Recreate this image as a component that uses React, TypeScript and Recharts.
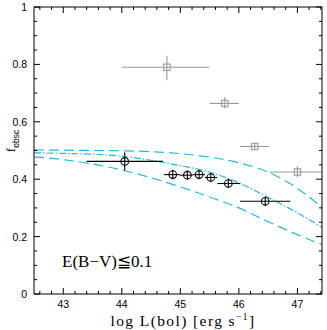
import React from 'react';
import { ComposedChart, Line, Scatter, XAxis, YAxis, ErrorBar } from 'recharts';

// model curves, sampled along log L(bol)
const curveLum = [42.5, 43.0, 43.5, 44.0, 44.5, 45.0, 45.5, 46.0, 46.5, 47.0, 47.42];
const upperDashed = [0.502, 0.501, 0.5, 0.499, 0.496, 0.489, 0.477, 0.457, 0.425, 0.368, 0.302];
const dashDot = [0.492, 0.49, 0.487, 0.48, 0.466, 0.447, 0.425, 0.387, 0.337, 0.283, 0.232];
const lowerDashed = [0.478, 0.468, 0.453, 0.432, 0.405, 0.373, 0.338, 0.3, 0.252, 0.207, 0.172];

// black circles
const sampleLum = [44.05, 44.87, 45.12, 45.32, 45.52, 45.82, 46.45];
const sampleF = [0.462, 0.416, 0.414, 0.416, 0.406, 0.385, 0.323];
const sampleLumLo = [43.4, 44.72, 44.99, 45.21, 45.42, 45.63, 46.02];
const sampleLumHi = [44.7, 44.99, 45.21, 45.42, 45.63, 46.02, 46.88];
const sampleFLo = [0.43, 0.4, 0.398, 0.4, 0.39, 0.369, 0.307];
const sampleFHi = [0.494, 0.432, 0.43, 0.432, 0.422, 0.401, 0.339];

// grey squares
const greyLum = [44.77, 45.76, 46.27, 47.0];
const greyF = [0.79, 0.664, 0.514, 0.425];
const greyLumLo = [44.0, 45.5, 46.02, 46.53];
const greyLumHi = [45.5, 46.0, 46.52, 47.42];
const greyFLo = [0.745, 0.646, 0.502, 0.408];
const greyFHi = [0.83, 0.686, 0.526, 0.445];

const xTicks = [42.6, 42.8, 43, 43.2, 43.4, 43.6, 43.8, 44, 44.2, 44.4, 44.6, 44.8, 45, 45.2, 45.4, 45.6, 45.8, 46, 46.2, 46.4, 46.6, 46.8, 47, 47.2, 47.4];
const yTicks = [0, 0.05, 0.1, 0.15, 0.2, 0.25, 0.3, 0.35, 0.4, 0.45, 0.5, 0.55, 0.6, 0.65, 0.7, 0.75, 0.8, 0.85, 0.9, 0.95, 1];
const yTickLabels: { [k: string]: string } = { '0': '0', '0.2': '0.2', '0.4': '0.4', '0.6': '0.6', '0.8': '0.8', '1': '1' };

const CYAN = '#2db6d2';
const GREY = '#9a9a9a';
const SANS = '"Liberation Sans", Arial, sans-serif';
const SERIF = '"Liberation Serif", "Times New Roman", serif';

const curve = (ys: number[]) => curveLum.map((x, i) => ({ x, y: ys[i] }));

const rows = (xs: number[], ys: number[], xlo: number[], xhi: number[], ylo: number[], yhi: number[]) =>
    xs.map((x, i) => ({
        x,
        y: ys[i],
        ex: [x - xlo[i], xhi[i] - x],
        ey: [ys[i] - ylo[i], yhi[i] - ys[i]],
    }));

const sampleRows = rows(sampleLum, sampleF, sampleLumLo, sampleLumHi, sampleFLo, sampleFHi);
const greyRows = rows(greyLum, greyF, greyLumLo, greyLumHi, greyFLo, greyFHi);

const isIntX = (v: number) => Math.abs(v - Math.round(v)) < 1e-6;
const isMajorY = (v: number) => Math.abs(v * 5 - Math.round(v * 5)) < 1e-6;

const BottomTick = ({ x, y, payload }: any) => {
    const major = isIntX(payload.value);
    return (
        <g>
            <line x1={x} x2={x} y1={y} y2={y - (major ? 6 : 3)} stroke="#000" />
            {major && (
                <text x={x} y={y + 14} textAnchor="middle" fontSize={10.5} fontFamily={SANS} fill="#000">
                    {Math.round(payload.value)}
                </text>
            )}
        </g>
    );
};

const TopTick = ({ x, y, payload }: any) => {
    const major = isIntX(payload.value);
    return <line x1={x} x2={x} y1={y} y2={y + (major ? 6 : 3)} stroke="#000" />;
};

const LeftTick = ({ x, y, payload }: any) => {
    const major = isMajorY(payload.value);
    const label = yTickLabels[String(Math.round(payload.value * 100) / 100)];
    return (
        <g>
            <line x1={x} x2={x + (major ? 6 : 3)} y1={y} y2={y} stroke="#000" />
            {major && label && (
                <text x={x - 7} y={y + 4} textAnchor="end" fontSize={10.5} fontFamily={SANS} fill="#000">
                    {label}
                </text>
            )}
        </g>
    );
};

const RightTick = ({ x, y, payload }: any) => {
    const major = isMajorY(payload.value);
    return <line x1={x} x2={x - (major ? 6 : 3)} y1={y} y2={y} stroke="#000" />;
};

const CircleMark = ({ cx, cy }: any) => (
    <circle cx={cx} cy={cy} r={3.8} fill="none" stroke="#000" strokeWidth={1.1} />
);

const SquareMark = ({ cx, cy }: any) => (
    <rect x={cx - 3.2} y={cy - 3.2} width={6.4} height={6.4} fill="none" stroke={GREY} strokeWidth={1.1} />
);

export default function App() {
    return (
        <div style={{ position: 'absolute', left: 0, top: 0, width: 327, height: 330, background: '#fff' }}>
            <ComposedChart width={327} height={330} margin={{ top: 6, right: 4, bottom: 0, left: 33 }}>
                <XAxis
                    xAxisId={0}
                    dataKey="x"
                    type="number"
                    domain={[42.5, 47.42]}
                    allowDataOverflow
                    ticks={xTicks}
                    interval={0}
                    height={36}
                    tickSize={0}
                    tickMargin={0}
                    tickLine={false}
                    tick={<BottomTick />}
                    axisLine={{ stroke: '#000' }}
                />
                <XAxis
                    xAxisId="top"
                    orientation="top"
                    dataKey="x"
                    type="number"
                    domain={[42.5, 47.42]}
                    allowDataOverflow
                    ticks={xTicks}
                    interval={0}
                    height={1}
                    tickSize={0}
                    tickMargin={0}
                    tickLine={false}
                    tick={<TopTick />}
                    axisLine={{ stroke: '#000' }}
                />
                <YAxis
                    yAxisId={0}
                    dataKey="y"
                    type="number"
                    domain={[0, 1]}
                    allowDataOverflow
                    ticks={yTicks}
                    interval={0}
                    width={1}
                    tickSize={0}
                    tickMargin={0}
                    tickLine={false}
                    tick={<LeftTick />}
                    axisLine={{ stroke: '#000' }}
                />
                <YAxis
                    yAxisId="right"
                    orientation="right"
                    dataKey="y"
                    type="number"
                    domain={[0, 1]}
                    allowDataOverflow
                    ticks={yTicks}
                    interval={0}
                    width={1}
                    tickSize={0}
                    tickMargin={0}
                    tickLine={false}
                    tick={<RightTick />}
                    axisLine={{ stroke: '#000' }}
                />
                <Line data={curve(upperDashed)} dataKey="y" type="monotone" stroke={CYAN} strokeWidth={1.2} strokeDasharray="10 5" dot={false} isAnimationActive={false} />
                <Line data={curve(dashDot)} dataKey="y" type="monotone" stroke={CYAN} strokeWidth={1.2} strokeDasharray="7 2 1.5 2" dot={false} isAnimationActive={false} />
                <Line data={curve(lowerDashed)} dataKey="y" type="monotone" stroke={CYAN} strokeWidth={1.2} strokeDasharray="10 5" dot={false} isAnimationActive={false} />
                <Scatter data={greyRows} dataKey="y" shape={<SquareMark />} isAnimationActive={false}>
                    <ErrorBar dataKey="ex" direction="x" width={0} stroke={GREY} strokeWidth={1.1} isAnimationActive={false} />
                    <ErrorBar dataKey="ey" direction="y" width={0} stroke={GREY} strokeWidth={1.1} isAnimationActive={false} />
                </Scatter>
                <Scatter data={sampleRows} dataKey="y" shape={<CircleMark />} isAnimationActive={false}>
                    <ErrorBar dataKey="ex" direction="x" width={0} stroke="#000" strokeWidth={1.1} isAnimationActive={false} />
                    <ErrorBar dataKey="ey" direction="y" width={0} stroke="#000" strokeWidth={1.1} isAnimationActive={false} />
                </Scatter>
            </ComposedChart>
            <svg width={327} height={330} style={{ position: 'absolute', left: 0, top: 0, pointerEvents: 'none' }}>
                <text x={183} y={326} textAnchor="middle" fontFamily={SERIF} fontSize={15.5} letterSpacing={1.4} fill="#000">
                    log L(bol) [erg s<tspan dy={-6} fontSize={9.5}>−1</tspan><tspan dy={6}>]</tspan>
                </text>
                <text x={62} y={267} fontFamily={SERIF} fontSize={17} fill="#000">
                    E(B−V)≦0.1
                </text>
            </svg>
            <div
                style={{
                    position: 'absolute',
                    left: -9,
                    top: 133,
                    width: 40,
                    height: 16,
                    lineHeight: '16px',
                    textAlign: 'center',
                    transform: 'rotate(-90deg)',
                    transformOrigin: '50% 50%',
                    fontFamily: SERIF,
                    fontSize: 13,
                    whiteSpace: 'nowrap',
                }}
            >
                f<sub style={{ fontSize: 8.5, fontFamily: SANS }}>obsc</sub>
            </div>
        </div>
    );
}
